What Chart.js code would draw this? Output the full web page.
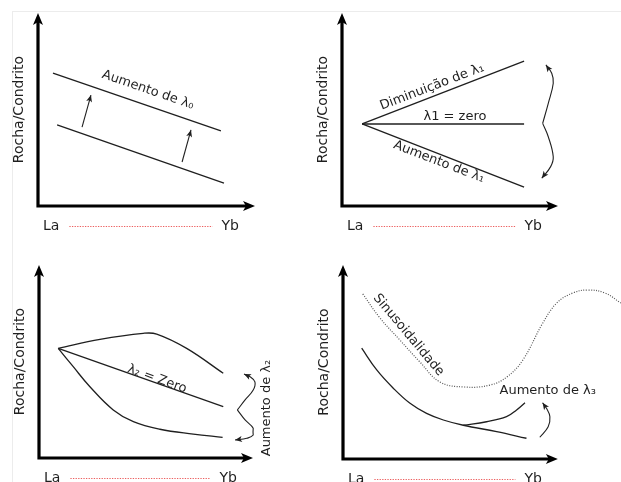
<!DOCTYPE html>
<html>
<head>
<meta charset="utf-8">
<script src="https://cdn.jsdelivr.net/npm/chart.js@4.4.1/dist/chart.umd.min.js"></script>
<style>
  html, body { margin: 0; padding: 0; background: #fff; }
  #wrap { position: relative; width: 621px; height: 482px; overflow: hidden; background: #fff; }
  #frame { position: absolute; left: 12px; top: 11px; width: 640px; height: 500px;
           border-left: 1px solid #ececec; border-top: 1px solid #ececec; }
  canvas { position: absolute; }
</style>
</head>
<body>
<div id="wrap">
  <div id="frame"></div>
  <canvas id="p1" width="310" height="240" style="left:0;top:0"></canvas>
  <canvas id="p2" width="311" height="240" style="left:310px;top:0"></canvas>
  <canvas id="p3" width="310" height="242" style="left:0;top:240px"></canvas>
  <canvas id="p4" width="311" height="242" style="left:310px;top:240px"></canvas>
</div>
<script>
// ---- data (normalised 0-10 units on both axes) ----
const reeEnds = ['La', 'Yb'];
const yTitle = 'Rocha/Condrito';

// λ0: the whole pattern moves up
const l0Lower = [[0.88, 4.20], [8.57, 1.19]];
const l0Upper = [[0.69, 6.89], [8.43, 3.89]];
const l0ArrowA = [[2.03, 4.09], [2.44, 5.75]];
const l0ArrowB = [[6.64, 2.28], [7.05, 3.94]];

// λ1: rotation about La
const l1Down = [[0.93, 4.25], [8.43, 7.51]];
const l1Zero = [[0.93, 4.25], [8.43, 4.25]];
const l1Up = [[0.93, 4.25], [8.43, 0.98]];
const l1BraceUp = [[9.29, 4.28], [9.55, 5.32], [9.78, 6.36], [9.71, 6.88], [9.44, 7.31]];
const l1BraceDown = [[9.29, 4.28], [9.55, 3.59], [9.78, 2.55], [9.66, 2.04], [9.25, 1.44]];

// λ2: curvature
const l2Convex = [[0.90, 5.68], [2.85, 6.15], [4.87, 6.46], [5.50, 6.42], [6.90, 5.68], [8.61, 4.39]];
const l2Zero = [[0.90, 5.68], [8.61, 2.66]];
const l2Concave = [[0.90, 5.68], [1.60, 4.73], [2.38, 3.69], [3.47, 2.49], [4.41, 1.88], [5.65, 1.49], [7.21, 1.24], [8.58, 1.07]];
const l2BraceUp = [[9.27, 2.49], [9.63, 3.01], [10.01, 3.52], [10.09, 3.95], [9.86, 4.21], [9.58, 4.35]];
const l2BraceDown = [[9.27, 2.49], [9.63, 1.97], [10.01, 1.54], [10.01, 1.19], [9.71, 1.02], [9.16, 0.93]];

// λ3: sinusoidal component
const l3Wave = [[0.92, 8.51], [1.72, 7.27], [2.65, 6.13], [3.58, 5.00], [4.51, 3.97], [5.67, 3.71],
                [6.84, 3.81], [7.63, 4.23], [8.37, 5.10], [9.30, 7.01], [9.95, 8.04], [10.70, 8.56],
                [11.40, 8.71], [12.19, 8.56], [12.93, 8.04]];
const l3Base = [[0.87, 5.71], [1.57, 4.59], [2.34, 3.65], [3.12, 2.87], [3.89, 2.35], [4.67, 2.01],
                [5.60, 1.74], [7.15, 1.41], [8.54, 1.07]];
const l3Branch = [[5.60, 1.74], [6.68, 1.92], [7.61, 2.18], [8.08, 2.53], [8.47, 2.90]];
const l3Arrow = [[9.16, 1.12], [9.55, 1.66], [9.63, 2.18], [9.47, 2.61], [9.29, 2.90]];

// ---- drawing helpers ----
const FONT = '"DejaVu Sans", Verdana, sans-serif';
const INK = '#1f1f1f';
const AXIS_END = 10;

function line(pts, extra) {
  return Object.assign({
    data: pts.map(([x, y]) => ({ x, y })),
    showLine: true, borderColor: INK, borderWidth: 1.3, pointRadius: 0,
    tension: 0, clip: false, fill: false
  }, extra || {});
}

function head(ctx, fx, fy, tx, ty, len, half, color) {
  const ang = Math.atan2(ty - fy, tx - fx);
  ctx.save();
  ctx.translate(tx, ty);
  ctx.rotate(ang);
  ctx.beginPath();
  ctx.moveTo(0, 0);
  ctx.lineTo(-len, half);
  ctx.lineTo(-len * 0.75, 0);
  ctx.lineTo(-len, -half);
  ctx.closePath();
  ctx.fillStyle = color;
  ctx.fill();
  ctx.restore();
}

const decor = {
  id: 'decor',
  afterDatasetsDraw(chart, args, opts) {
    const { ctx, scales: { x, y } } = chart;
    const left = x.getPixelForValue(0), right = x.getPixelForValue(AXIS_END);
    const bottom = y.getPixelForValue(0), top = y.getPixelForValue(AXIS_END);
    ctx.save();

    // arrowheads on flagged datasets
    chart.data.datasets.forEach((ds, i) => {
      if (!ds.arrow) return;
      const pts = chart.getDatasetMeta(i).data;
      const tip = pts[pts.length - 1];
      const prev = pts[pts.length - 2];
      let fx = tip.cp1x, fy = tip.cp1y;
      if (fx === undefined || Math.hypot(fx - tip.x, fy - tip.y) < 0.5) { fx = prev.x; fy = prev.y; }
      head(ctx, fx, fy, tip.x, tip.y, 7, 3, ds.borderColor);
    });

    // axes with arrows
    ctx.strokeStyle = '#000';
    ctx.lineWidth = 3.2;
    ctx.lineJoin = 'miter';
    ctx.beginPath();
    ctx.moveTo(left, top + 8);
    ctx.lineTo(left, bottom);
    ctx.lineTo(right - 8, bottom);
    ctx.stroke();
    head(ctx, left, top + 20, left, top, 12, 5, '#000');
    head(ctx, right - 20, bottom, right, bottom, 12, 5, '#000');

    ctx.fillStyle = INK;
    ctx.font = '14px ' + FONT;

    // vertical axis title
    ctx.save();
    ctx.translate(left - 19, (top + bottom) / 2);
    ctx.rotate(-Math.PI / 2);
    ctx.textAlign = 'center';
    ctx.textBaseline = 'middle';
    ctx.fillText(yTitle, 0, 0);
    ctx.restore();

    // REE span under the horizontal axis
    const ly = bottom + 20;
    ctx.textBaseline = 'middle';
    ctx.textAlign = 'left';
    const lx = left + 5;
    ctx.fillText(reeEnds[0], lx, ly);
    const laEnd = lx + ctx.measureText(reeEnds[0]).width;
    ctx.textAlign = 'right';
    const yx = right - 16;
    ctx.fillText(reeEnds[1], yx, ly);
    const ybStart = yx - ctx.measureText(reeEnds[1]).width;
    ctx.save();
    ctx.strokeStyle = '#ec5f5f';
    ctx.lineWidth = 1;
    ctx.setLineDash([1.3, 1.3]);
    ctx.beginPath();
    ctx.moveTo(laEnd + 10, Math.round(ly) + 0.5);
    ctx.lineTo(ybStart - 9, Math.round(ly) + 0.5);
    ctx.stroke();
    ctx.restore();

    // curve labels
    ctx.font = '13px ' + FONT;
    (opts.notes || []).forEach(n => {
      ctx.save();
      ctx.translate(x.getPixelForValue(n.x), y.getPixelForValue(n.y));
      ctx.rotate(n.rot * Math.PI / 180);
      ctx.textAlign = 'center';
      ctx.textBaseline = 'middle';
      ctx.fillStyle = INK;
      ctx.fillText(n.text, 0, 0);
      ctx.restore();
    });
    ctx.restore();
  }
};

function panel(id, pad, xMax, datasets, notes) {
  return new Chart(document.getElementById(id), {
    type: 'scatter',
    data: { datasets },
    options: {
      responsive: false,
      animation: false,
      events: [],
      layout: { padding: pad },
      scales: {
        x: { type: 'linear', min: 0, max: xMax, display: false },
        y: { type: 'linear', min: 0, max: AXIS_END, display: false }
      },
      plugins: { legend: { display: false }, tooltip: { enabled: false }, decor: { notes } }
    },
    plugins: [decor]
  });
}

panel('p1', { left: 38, top: 13, right: 55, bottom: 34 }, 10, [
  line(l0Upper),
  line(l0Lower),
  line(l0ArrowA, { borderWidth: 1.1, arrow: true }),
  line(l0ArrowB, { borderWidth: 1.1, arrow: true })
], [
  { text: 'Aumento de λ₀', x: 5.07, y: 6.01, rot: 19 }
]);

panel('p2', { left: 32, top: 13, right: 63, bottom: 34 }, 10, [
  line(l1Down),
  line(l1Zero),
  line(l1Up),
  line(l1BraceUp, { borderWidth: 1.1, tension: 0.4, arrow: true }),
  line(l1BraceDown, { borderWidth: 1.1, tension: 0.4, arrow: true })
], [
  { text: 'Diminuição de λ₁', x: 4.17, y: 6.17, rot: -21 },
  { text: 'λ1 = zero', x: 5.23, y: 4.61, rot: 0 },
  { text: 'Aumento de λ₁', x: 4.49, y: 2.28, rot: 21 }
]);

panel('p3', { left: 39, top: 25, right: 57, bottom: 24 }, 10, [
  line(l2Convex, { tension: 0.4 }),
  line(l2Zero),
  line(l2Concave, { tension: 0.4 }),
  line(l2BraceUp, { borderWidth: 1.1, tension: 0.4, arrow: true }),
  line(l2BraceDown, { borderWidth: 1.1, tension: 0.4, arrow: true })
], [
  { text: 'λ₂ = Zero', x: 5.51, y: 4.09, rot: 20 },
  { text: 'Aumento de λ₂', x: 10.64, y: 2.59, rot: -90 }
]);

// the wave runs on past the end of the axis, so this scale reaches further right
panel('p4', { left: 33, top: 25, right: 3, bottom: 23 }, 12.8, [
  line(l3Wave, { tension: 0.4, borderColor: '#555', borderWidth: 1.2, borderDash: [1, 1.5] }),
  line(l3Base, { tension: 0.4 }),
  line(l3Branch, { tension: 0.4 }),
  line(l3Arrow, { borderWidth: 1.1, tension: 0.4, arrow: true })
], [
  { text: 'Sinusoidalidade', x: 3.05, y: 6.39, rot: 50 },
  { text: 'Aumento de λ₃', x: 9.53, y: 3.51, rot: 0 }
]);
</script>
</body>
</html>
